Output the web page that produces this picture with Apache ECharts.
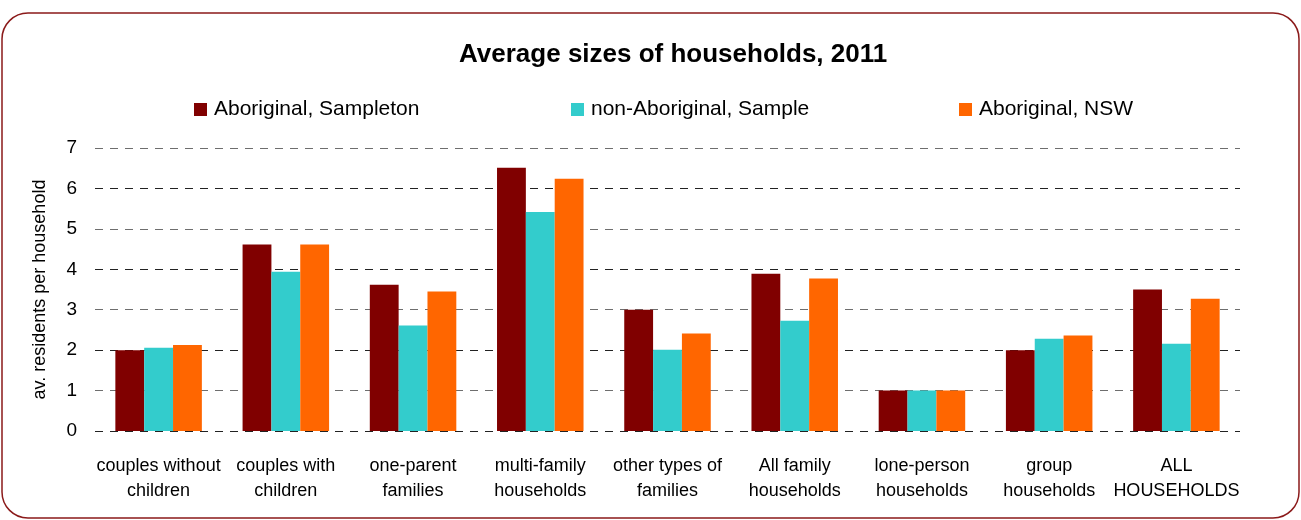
<!DOCTYPE html>
<html>
<head>
<meta charset="utf-8">
<style>
  html, body { margin: 0; padding: 0; background: #fff; }
  #chart { width: 1301px; height: 520px; }
</style>
<script src="https://cdn.jsdelivr.net/npm/echarts@6/dist/echarts.min.js"></script>
</head>
<body>
<div id="chart"></div>
<script>
// Household types (two-line labels)
const categories = [
  'couples without\nchildren',
  'couples with\nchildren',
  'one-parent\nfamilies',
  'multi-family\nhouseholds',
  'other types of\nfamilies',
  'All family\nhouseholds',
  'lone-person\nhouseholds',
  'group\nhouseholds',
  'ALL\nHOUSEHOLDS'
];

// Average residents per household, 2011
const aboriginalSampleton = [2.0, 4.61, 3.62, 6.51, 3.0, 3.89, 1.0, 2.0, 3.5];
const nonAboriginalSample = [2.06, 3.94, 2.61, 5.42, 2.01, 2.73, 1.0, 2.28, 2.16];
const aboriginalNSW       = [2.13, 4.61, 3.45, 6.24, 2.41, 3.77, 1.0, 2.36, 3.27];

const seriesNames = ['Aboriginal, Sampleton', 'non-Aboriginal, Sample', 'Aboriginal, NSW'];
const seriesColors = ['#800000', '#33CCCC', '#FF6600'];
const seriesValues = [aboriginalSampleton, nonAboriginalSample, aboriginalNSW];

const FONT = '"Liberation Sans", Arial, sans-serif';

const chart = echarts.init(document.getElementById('chart'), null, { renderer: 'canvas' });

// each legend entry sits at its own horizontal position
const legendLefts = [194, 571, 959];

chart.setOption({
  animation: false,
  backgroundColor: '#fff',
  textStyle: { fontFamily: FONT },
  title: {
    text: 'Average sizes of households, 2011',
    left: 459,
    top: 42,
    padding: 0,
    textStyle: { fontFamily: FONT, fontSize: 26, fontWeight: 'bold', color: '#000' }
  },
  legend: seriesNames.map((name, i) => ({
    data: [name],
    left: legendLefts[i],
    top: 99,
    padding: 0,
    itemWidth: 13,
    itemHeight: 13,
    itemGap: 7,
    icon: 'rect',
    textStyle: { fontFamily: FONT, fontSize: 21, color: '#000', padding: [0, 0, 0, 2] }
  })),
  graphic: [{
    type: 'rect',
    shape: { x: 2, y: 13, width: 1297, height: 505, r: 26 },
    style: { fill: 'none', stroke: '#8B1A1A', lineWidth: 1.5 },
    z: 100
  }],
  grid: { left: 95, right: 61, top: 148, bottom: 89, containLabel: false },
  xAxis: {
    type: 'category',
    data: categories,
    axisLine: { show: false },
    axisTick: { show: false },
    axisLabel: {
      interval: 0,
      margin: 23,
      fontFamily: FONT,
      fontSize: 18,
      lineHeight: 25,
      color: '#000'
    }
  },
  yAxis: {
    type: 'value',
    min: 0,
    max: 7,
    interval: 1,
    name: 'av. residents per household',
    nameLocation: 'middle',
    nameGap: 46,
    nameTextStyle: { fontFamily: FONT, fontSize: 18, color: '#000' },
    axisLine: { show: false },
    axisTick: { show: false },
    axisLabel: { margin: 18, fontFamily: FONT, fontSize: 19, color: '#000' },
    splitLine: {
      show: true,
      lineStyle: { type: [8, 7], color: ['#222222', '#6e6e6e'], width: 1 }
    }
  },
  series: seriesNames.map((name, i) => ({
    name: name,
    type: 'bar',
    data: seriesValues[i],
    itemStyle: { color: seriesColors[i] },
    barGap: '0%',
    barCategoryGap: '32%'
  }))
});
</script>
</body>
</html>
